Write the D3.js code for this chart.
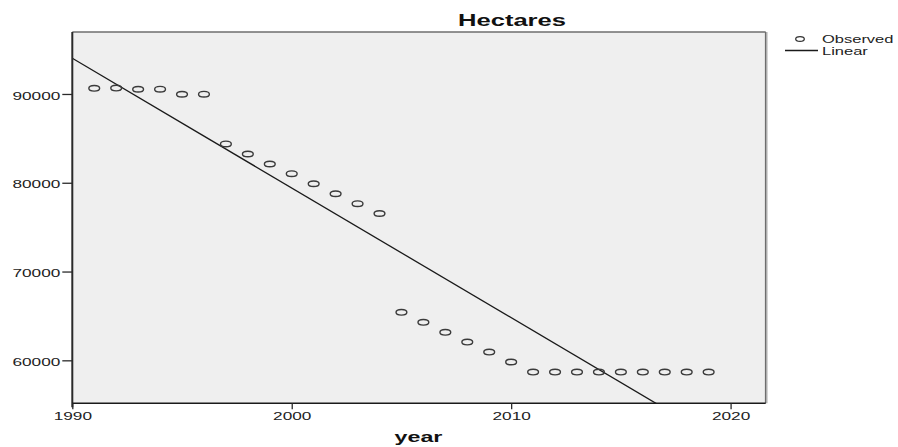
<!DOCTYPE html>
<html>
<head>
<meta charset="utf-8">
<script src="https://cdn.jsdelivr.net/npm/d3@7"></script>
<style>
  html, body { margin: 0; padding: 0; background: #fff; }
  svg { display: block; font-family: Arial, "Liberation Sans", sans-serif; }
</style>
</head>
<body>
<svg id="chart" width="898" height="447"></svg>
<script>
// Observed hectares by year
const years = [1991, 1992, 1993, 1994, 1995, 1996, 1997, 1998, 1999, 2000,
               2001, 2002, 2003, 2004, 2005, 2006, 2007, 2008, 2009, 2010,
               2011, 2012, 2013, 2014, 2015, 2016, 2017, 2018, 2019];
const hectares = [90640, 90660, 90530, 90540, 89970, 89980, 84370, 83240, 82110, 81020,
                  79890, 78760, 77640, 76540, 65410, 64280, 63150, 62060, 60930, 59810,
                  58680, 58680, 58680, 58680, 58680, 58680, 58680, 58680, 58680];

// Linear model: value at the 1990 origin and yearly slope
const linearAt1990 = 94020;
const linearSlope = -1461;

const xTicks = [1990, 2000, 2010, 2020];
const yTicks = [60000, 70000, 80000, 90000];
const xDomain = [1990, 2021.6];
const yDomain = [55160, 96980];

const titleText = "Hectares";
const xLabel = "year";
const legendItems = ["Observed", "Linear"];

const svg = d3.select("#chart");
const plot = { left: 72.3, right: 765.7, top: 32, bottom: 403.3 };

const x = d3.scaleLinear().domain(xDomain).range([plot.left, plot.right]);
const y = d3.scaleLinear().domain(yDomain).range([plot.bottom, plot.top]);

// plot background and frame
svg.append("rect")
  .attr("x", plot.left).attr("y", plot.top)
  .attr("width", plot.right - plot.left).attr("height", plot.bottom - plot.top)
  .attr("fill", "#efefef");
svg.append("line")
  .attr("x1", plot.left).attr("x2", plot.right)
  .attr("y1", plot.top).attr("y2", plot.top)
  .attr("stroke", "#6e6e6e").attr("stroke-width", 1.4);
svg.append("line")
  .attr("x1", plot.right + 1.6).attr("x2", plot.right + 1.6)
  .attr("y1", plot.top).attr("y2", plot.bottom)
  .attr("stroke", "#d6d6d6").attr("stroke-width", 1.4);
svg.append("line")
  .attr("x1", plot.right).attr("x2", plot.right)
  .attr("y1", plot.top).attr("y2", plot.bottom)
  .attr("stroke", "#6e6e6e").attr("stroke-width", 1.6);

svg.append("clipPath").attr("id", "plotClip")
  .append("rect")
  .attr("x", plot.left).attr("y", plot.top)
  .attr("width", plot.right - plot.left).attr("height", plot.bottom - plot.top);

// linear fit
const fit = yr => linearAt1990 + linearSlope * (yr - 1990);
svg.append("line")
  .attr("clip-path", "url(#plotClip)")
  .attr("x1", x(xDomain[0])).attr("y1", y(fit(xDomain[0])))
  .attr("x2", x(xDomain[1])).attr("y2", y(fit(xDomain[1])))
  .attr("stroke", "#1a1a1a").attr("stroke-width", 1.3);

// observed points
svg.append("g").selectAll("ellipse")
  .data(years.map((yr, i) => ({ yr, v: hectares[i] })))
  .join("ellipse")
  .attr("cx", d => x(d.yr)).attr("cy", d => y(d.v))
  .attr("rx", 5.4).attr("ry", 2.8)
  .attr("fill", "none").attr("stroke", "#3a3a3a").attr("stroke-width", 1.4);

const sx = 1.5;

// y axis
const yAxis = svg.append("g")
  .attr("transform", `translate(${plot.left},0)`)
  .call(d3.axisLeft(y).tickValues(yTicks).tickSize(10).tickSizeOuter(0).tickFormat(d3.format("d")));
yAxis.select(".domain").attr("stroke", "#2a2a2a").attr("stroke-width", 2)
  .attr("d", `M0,${plot.top}V${plot.bottom + 4}`);
yAxis.selectAll(".tick line").attr("stroke", "#2a2a2a").attr("stroke-width", 1.3);
yAxis.selectAll(".tick text")
  .attr("font-size", 11.5).attr("fill", "#222")
  .attr("font-family", "Arial, 'Liberation Sans', sans-serif")
  .attr("x", -12 / sx).attr("dy", "0.45em")
  .attr("transform", `scale(${sx},1)`);

// x axis
const xAxis = svg.append("g")
  .attr("transform", `translate(0,${plot.bottom})`)
  .call(d3.axisBottom(x).tickValues(xTicks).tickSize(6).tickSizeOuter(0).tickFormat(d3.format("d")));
xAxis.select(".domain").attr("stroke", "#1a1a1a").attr("stroke-width", 1.6)
  .attr("d", `M${plot.left},0H${plot.right}`);
xAxis.selectAll(".tick line").attr("stroke", "#2a2a2a").attr("stroke-width", 1.3);
xAxis.selectAll(".tick text")
  .attr("font-size", 11.5).attr("fill", "#222")
  .attr("font-family", "Arial, 'Liberation Sans', sans-serif")
  .attr("y", 9).attr("dy", "0.71em")
  .attr("transform", `scale(${sx},1)`);

// title and axis label
svg.append("text")
  .attr("transform", `translate(512,26) scale(1.55,1)`)
  .attr("text-anchor", "middle")
  .attr("font-size", 16.5).attr("font-weight", "bold").attr("fill", "#111")
  .text(titleText);
svg.append("text")
  .attr("transform", `translate(418.5,442) scale(1.55,1)`)
  .attr("text-anchor", "middle")
  .attr("font-size", 15).attr("font-weight", "bold").attr("fill", "#111")
  .text(xLabel);

// legend
const legend = svg.append("g");
legend.append("ellipse")
  .attr("cx", 800).attr("cy", 39).attr("rx", 4.3).attr("ry", 2.4)
  .attr("fill", "none").attr("stroke", "#333").attr("stroke-width", 1.3);
legend.append("line")
  .attr("x1", 785).attr("x2", 818).attr("y1", 50.5).attr("y2", 50.5)
  .attr("stroke", "#1a1a1a").attr("stroke-width", 1.3);
legend.selectAll("text")
  .data(legendItems)
  .join("text")
  .attr("transform", (d, i) => `translate(822,${43 + i * 12}) scale(1.65,1)`)
  .attr("font-size", 10).attr("fill", "#222")
  .text(d => d);
</script>
</body>
</html>
